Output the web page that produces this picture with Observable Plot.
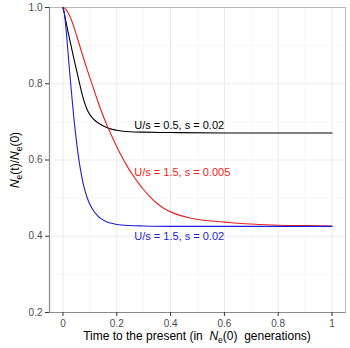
<!DOCTYPE html>
<html>
<head>
<meta charset="utf-8">
<script src="https://cdn.jsdelivr.net/npm/d3@7"></script>
<script src="https://cdn.jsdelivr.net/npm/@observablehq/plot@0.6"></script>
<style>
  html, body { margin: 0; padding: 0; background: #fff; }
  #chart { width: 350px; height: 348px; }
</style>
</head>
<body>
<div id="chart"></div>
<script>
// Series: U/s = 0.5, s = 0.02 (black)
const tBlack = [0, 0.005, 0.01, 0.02, 0.03, 0.04, 0.05, 0.06, 0.07, 0.08, 0.09, 0.10, 0.11, 0.12, 0.14, 0.16, 0.18, 0.20, 0.25, 0.30, 0.40, 0.60, 0.80, 1.00];
const vBlack = [1.000, 0.985, 0.967, 0.933, 0.900, 0.868, 0.837, 0.806, 0.776, 0.751, 0.732, 0.719, 0.710, 0.703, 0.693, 0.686, 0.681, 0.678, 0.674, 0.673, 0.672, 0.671, 0.671, 0.671];

// Series: U/s = 1.5, s = 0.005 (red)
const tRed = [0, 0.01, 0.02, 0.03, 0.04, 0.05, 0.06, 0.07, 0.08, 0.09, 0.10, 0.11, 0.12, 0.14, 0.16, 0.18, 0.20, 0.22, 0.24, 0.26, 0.28, 0.30, 0.32, 0.35, 0.38, 0.42, 0.46, 0.50, 0.55, 0.60, 0.65, 0.70, 0.80, 0.90, 1.00];
const vRed = [1.000, 0.996, 0.985, 0.970, 0.950, 0.928, 0.905, 0.882, 0.859, 0.837, 0.816, 0.795, 0.774, 0.733, 0.697, 0.665, 0.635, 0.607, 0.582, 0.560, 0.540, 0.522, 0.506, 0.486, 0.471, 0.458, 0.450, 0.444, 0.440, 0.437, 0.434, 0.432, 0.429, 0.428, 0.427];

// Series: U/s = 1.5, s = 0.02 (blue)
const tBlue = [0, 0.005, 0.01, 0.015, 0.02, 0.025, 0.03, 0.04, 0.05, 0.06, 0.07, 0.08, 0.09, 0.10, 0.11, 0.12, 0.13, 0.14, 0.16, 0.18, 0.20, 0.25, 0.30, 0.40, 0.60, 0.80, 1.00];
const vBlue = [1.000, 0.985, 0.955, 0.915, 0.872, 0.830, 0.790, 0.714, 0.650, 0.597, 0.556, 0.524, 0.501, 0.484, 0.471, 0.461, 0.453, 0.447, 0.439, 0.434, 0.431, 0.428, 0.427, 0.426, 0.426, 0.426, 0.426];

// Curve annotations
const labelText = ["U/s = 0.5, s = 0.02", "U/s = 1.5, s = 0.005", "U/s = 1.5, s = 0.02"];
const labelX = [0.265, 0.265, 0.265];
const labelY = [0.690, 0.568, 0.399];
const seriesColor = ["#000000", "#ee1c1c", "#1c1cdd"];

// Axis ticks
const xTicks = [0, 0.2, 0.4, 0.6, 0.8, 1.0];
const xMinor = [0.1, 0.3, 0.5, 0.7, 0.9];
const yTicks = [0.2, 0.4, 0.6, 0.8, 1.0];
const yMinor = [0.3, 0.5, 0.7, 0.9];

const toRows = (ts, vs, k) => ts.map((t, i) => ({t, v: vs[i], k}));
const rows = [
  ...toRows(tBlack, vBlack, 0),
  ...toRows(tRed, vRed, 1),
  ...toRows(tBlue, vBlue, 2)
];
const labels = labelText.map((s, i) => ({s, x: labelX[i], y: labelY[i], k: i}));

const chart = Plot.plot({
  width: 350,
  height: 348,
  marginLeft: 49,
  marginRight: 5,
  marginTop: 7,
  marginBottom: 36,
  x: {domain: [-0.05, 1.05]},
  y: {domain: [0.2, 1.0]},
  style: {fontFamily: "'Liberation Sans', Arial, sans-serif", fontSize: "10px", background: "#fff", overflow: "visible"},
  marks: [
    Plot.gridX(xMinor, {stroke: "#f2f2f2", strokeOpacity: 1, strokeWidth: 0.6}),
    Plot.gridY(yMinor, {stroke: "#f2f2f2", strokeOpacity: 1, strokeWidth: 0.6}),
    Plot.gridX(xTicks, {stroke: "#ebebeb", strokeOpacity: 1, strokeWidth: 1}),
    Plot.gridY(yTicks, {stroke: "#ebebeb", strokeOpacity: 1, strokeWidth: 1}),
    Plot.frame({stroke: "#b8b8b8"}),
    Plot.ruleX([-0.05], {stroke: "#8a8a8a", strokeWidth: 1.2}),
    Plot.ruleY([0.2], {stroke: "#8a8a8a", strokeWidth: 1.2}),
    Plot.line(rows, {x: "t", y: "v", z: "k", stroke: d => seriesColor[d.k], strokeWidth: 1.1, curve: "monotone-x"}),
    Plot.text(labels, {x: "x", y: "y", text: "s", fill: d => seriesColor[d.k], textAnchor: "start", fontSize: 11}),
    Plot.axisX(xTicks, {tickSize: 4, tickPadding: 3, stroke: "#333", fill: "#4d4d4d", label: null,
      tickFormat: d => (d === 0 || d === 1) ? String(d) : d.toFixed(1)}),
    Plot.axisY(yTicks, {tickSize: 4, tickPadding: 3, stroke: "#333", fill: "#4d4d4d", label: null,
      tickFormat: d => d.toFixed(1)})
  ]
});

document.getElementById("chart").appendChild(chart);

// Axis titles with italic N and subscript e
const NS = "http://www.w3.org/2000/svg";
function addTitle(parts, x, y, rotate) {
  const t = document.createElementNS(NS, "text");
  t.setAttribute("x", x);
  t.setAttribute("y", y);
  t.setAttribute("text-anchor", "middle");
  t.setAttribute("font-size", "12");
  t.setAttribute("fill", "#000");
  t.setAttribute("xml:space", "preserve");
  t.style.whiteSpace = "pre";
  t.style.fontFamily = "'Liberation Sans', Arial, sans-serif";
  if (rotate) t.setAttribute("transform", `rotate(-90 ${x} ${y})`);
  let shift = 0;
  for (const p of parts) {
    const s = document.createElementNS(NS, "tspan");
    s.textContent = p.text;
    if (p.italic) s.setAttribute("font-style", "italic");
    if (p.sub) {
      s.setAttribute("font-size", "8.5");
      s.setAttribute("dy", 3 - shift); shift = 3;
    } else if (shift) {
      s.setAttribute("dy", -shift); shift = 0;
    }
    t.appendChild(s);
  }
  chart.appendChild(t);
}
addTitle([
  {text: "Time to the present (in  "},
  {text: "N", italic: true},
  {text: "e", sub: true},
  {text: "(0)  generations)"}
], 197, 340, false);
addTitle([
  {text: "N", italic: true},
  {text: "e", sub: true},
  {text: "(t)/"},
  {text: "N", italic: true},
  {text: "e", sub: true},
  {text: "(0)"}
], 19, 160, true);
</script>
</body>
</html>
